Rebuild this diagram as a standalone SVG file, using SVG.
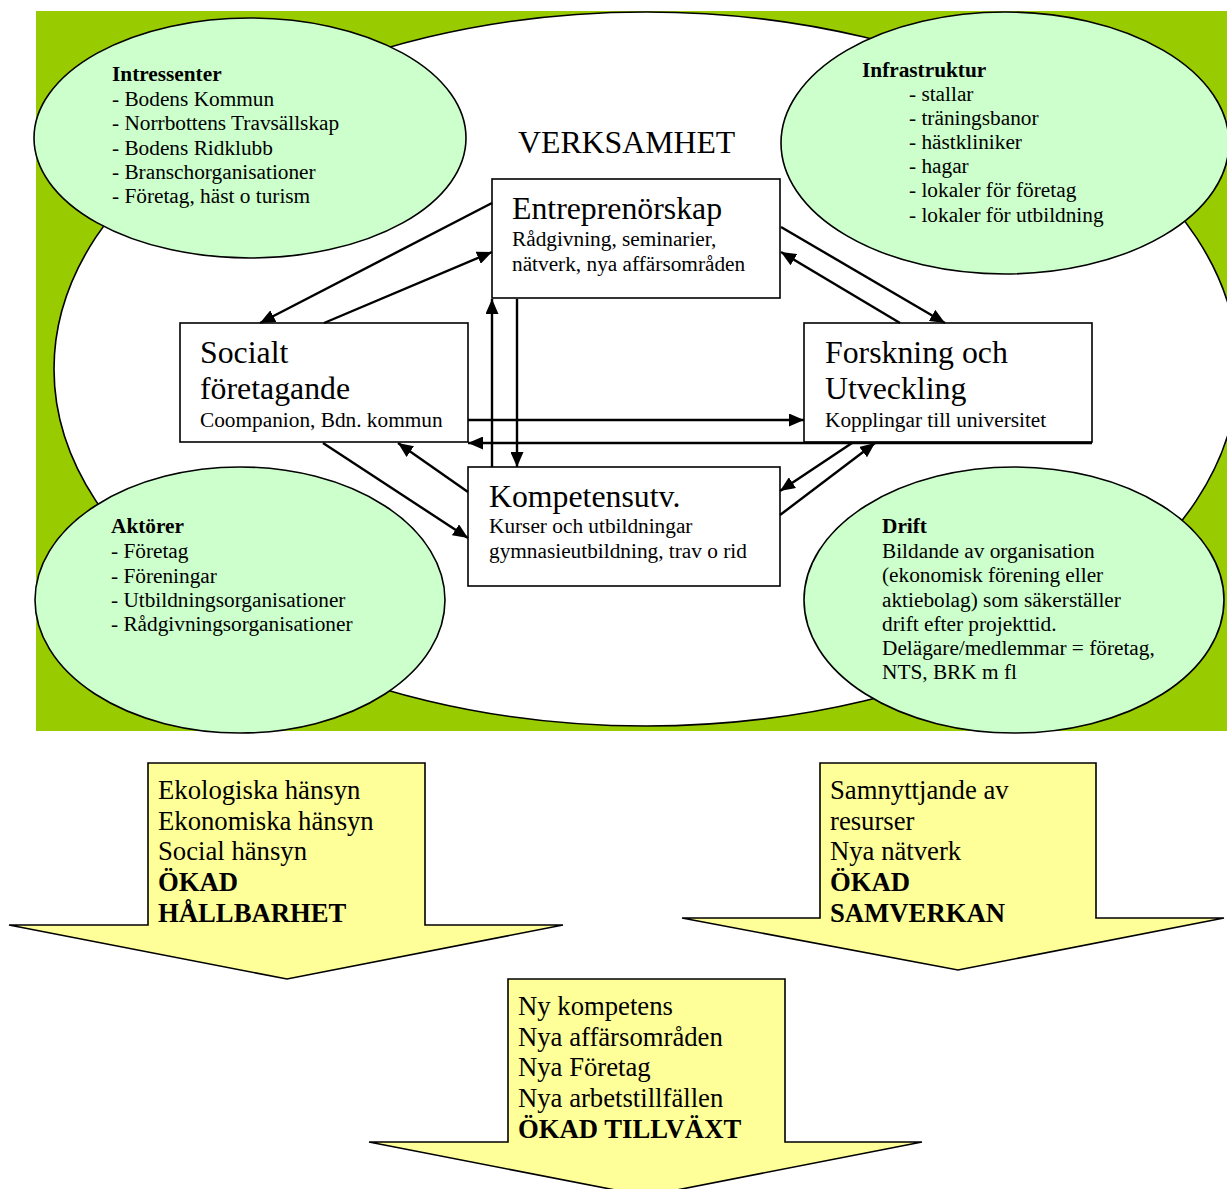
<svg xmlns="http://www.w3.org/2000/svg" width="1227" height="1189" viewBox="0 0 1227 1189">
<defs>
<style>
text{font-family:"Liberation Serif","Times New Roman",serif;fill:#000}
.t{font-size:31.8px}
.s{font-size:21.3px}
.b{font-weight:bold}
.y{font-size:26.7px}
.ell{fill:#CCFFCC;stroke:#000;stroke-width:1.6}
.box{fill:#fff;stroke:#000;stroke-width:1.6}
.yel{fill:#FFFF99;stroke:#000;stroke-width:1.6}
.c{stroke:#000;stroke-width:2.4;fill:none;marker-end:url(#ah)}
</style>
<marker id="ah" markerUnits="userSpaceOnUse" markerWidth="15" markerHeight="13" refX="15" refY="6.5" orient="auto">
<path d="M0,0 L15,6.5 L0,13 z" fill="#000"/>
</marker>
</defs>
<rect width="1227" height="1189" fill="#fff"/>
<g id="background">
<rect x="36" y="11" width="1191" height="720" fill="#99CC00"/>
<ellipse cx="646" cy="369" rx="592" ry="357" fill="#fff" stroke="#000" stroke-width="1.6"/>
<text x="518" y="153" class="t">VERKSAMHET</text>
</g>
<g id="intressenter">
<ellipse class="ell" cx="250" cy="138" rx="216" ry="120"/>
<text class="s b" x="112" y="81">Intressenter</text>
<text class="s" x="112" y="106">- Bodens Kommun</text>
<text class="s" x="112" y="130">- Norrbottens Travsällskap</text>
<text class="s" x="112" y="155">- Bodens Ridklubb</text>
<text class="s" x="112" y="179">- Branschorganisationer</text>
<text class="s" x="112" y="203">- Företag, häst o turism</text>
</g>
<g id="infrastruktur">
<ellipse class="ell" cx="1005" cy="143" rx="224" ry="131"/>
<text class="s b" x="862" y="77">Infrastruktur</text>
<text class="s" x="909" y="101">- stallar</text>
<text class="s" x="909" y="125">- träningsbanor</text>
<text class="s" x="909" y="149">- hästkliniker</text>
<text class="s" x="909" y="173">- hagar</text>
<text class="s" x="909" y="197">- lokaler för företag</text>
<text class="s" x="909" y="222">- lokaler för utbildning</text>
</g>
<g id="aktorer">
<ellipse class="ell" cx="240" cy="600" rx="205" ry="133"/>
<text class="s b" x="111" y="533">Aktörer</text>
<text class="s" x="111" y="558">- Företag</text>
<text class="s" x="111" y="583">- Föreningar</text>
<text class="s" x="111" y="607">- Utbildningsorganisationer</text>
<text class="s" x="111" y="631">- Rådgivningsorganisationer</text>
</g>
<g id="drift">
<ellipse class="ell" cx="1014" cy="600" rx="210" ry="133"/>
<text class="s b" x="882" y="533">Drift</text>
<text class="s" x="882" y="558">Bildande av organisation</text>
<text class="s" x="882" y="582">(ekonomisk förening eller</text>
<text class="s" x="882" y="607">aktiebolag) som säkerställer</text>
<text class="s" x="882" y="631">drift efter projekttid.</text>
<text class="s" x="882" y="655">Delägare/medlemmar = företag,</text>
<text class="s" x="882" y="679">NTS, BRK m fl</text>
</g>
<g id="entreprenorskap">
<rect class="box" x="492" y="179" width="288" height="119"/>
<text class="t" x="512" y="219">Entreprenörskap</text>
<text class="s" x="512" y="246">Rådgivning, seminarier,</text>
<text class="s" x="512" y="271">nätverk, nya affärsområden</text>
</g>
<g id="socialt">
<rect class="box" x="180" y="323" width="288" height="119"/>
<text class="t" x="200" y="363">Socialt</text>
<text class="t" x="200" y="399">företagande</text>
<text class="s" x="200" y="427">Coompanion, Bdn. kommun</text>
</g>
<g id="forskning">
<rect class="box" x="804" y="323" width="288" height="119"/>
<text class="t" x="825" y="363">Forskning och</text>
<text class="t" x="825" y="399">Utveckling</text>
<text class="s" x="825" y="427">Kopplingar till universitet</text>
</g>
<g id="kompetensutv">
<rect class="box" x="468" y="467" width="312" height="119"/>
<text class="t" x="489" y="507">Kompetensutv.</text>
<text class="s" x="489" y="533">Kurser och utbildningar</text>
<text class="s" x="489" y="558">gymnasieutbildning, trav o rid</text>
</g>
<g id="connectors">
<line class="c" x1="492" y1="203" x2="260" y2="323"/>
<line class="c" x1="324" y1="323" x2="492" y2="252"/>
<line class="c" x1="781" y1="227" x2="945" y2="323"/>
<line class="c" x1="900" y1="323" x2="781" y2="252"/>
<line class="c" x1="492" y1="467" x2="492" y2="299"/>
<line class="c" x1="517" y1="299" x2="517" y2="467"/>
<line class="c" x1="468" y1="420" x2="804" y2="420"/>
<line class="c" x1="1092" y1="443" x2="468" y2="443"/>
<line class="c" x1="323" y1="443" x2="468" y2="538"/>
<line class="c" x1="468" y1="492" x2="398" y2="443"/>
<line class="c" x1="852" y1="443" x2="780" y2="491"/>
<line class="c" x1="780" y1="515" x2="875" y2="443"/>
</g>
<g id="hallbarhet">
<path class="yel" d="M148,763 L425,763 L425,925 L563,925 L287,979 L9,925 L148,925 Z"/>
<text class="y" x="158" y="799">Ekologiska hänsyn</text>
<text class="y" x="158" y="830">Ekonomiska hänsyn</text>
<text class="y" x="158" y="860">Social hänsyn</text>
<text class="y b" x="158" y="891">ÖKAD</text>
<text class="y b" x="158" y="922">HÅLLBARHET</text>
</g>
<g id="samverkan">
<path class="yel" d="M820,763 L1096,763 L1096,918 L1224,918 L958,970 L682,918 L820,918 Z"/>
<text class="y" x="830" y="799">Samnyttjande av</text>
<text class="y" x="830" y="830">resurser</text>
<text class="y" x="830" y="860">Nya nätverk</text>
<text class="y b" x="830" y="891">ÖKAD</text>
<text class="y b" x="830" y="922">SAMVERKAN</text>
</g>
<g id="tillvaxt">
<path class="yel" d="M508,979 L785,979 L785,1142 L922,1142 L646,1196 L369,1142 L508,1142 Z"/>
<text class="y" x="518" y="1015">Ny kompetens</text>
<text class="y" x="518" y="1046">Nya affärsområden</text>
<text class="y" x="518" y="1076">Nya Företag</text>
<text class="y" x="518" y="1107">Nya arbetstillfällen</text>
<text class="y b" x="518" y="1138">ÖKAD TILLVÄXT</text>
</g>
</svg>
